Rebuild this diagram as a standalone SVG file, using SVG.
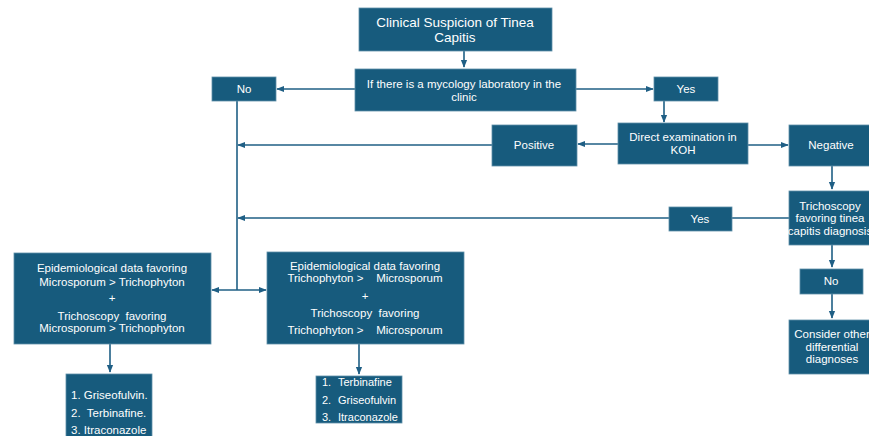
<svg xmlns="http://www.w3.org/2000/svg" width="869" height="436" viewBox="0 0 869 436">
<style>
.box{fill:#175b7d;stroke:#5f8fa8;stroke-width:0.8}
.t{font-family:"Liberation Sans",Arial,sans-serif;font-size:11.5px;fill:#ffffff;text-anchor:middle}
.tl{font-family:"Liberation Sans",Arial,sans-serif;font-size:11.5px;fill:#ffffff}
.sm{font-size:11px}
.big{font-size:13.5px}
.c{stroke:#1f5f85;stroke-width:1.6;fill:none}
</style>
<defs>
<marker id="ah" viewBox="0 0 10 10" refX="9" refY="5" markerWidth="5" markerHeight="5" orient="auto-start-reverse">
<path d="M0,1 L10,5 L0,9 z" fill="#1f5f85"/>
</marker>
</defs>
<rect width="869" height="436" fill="#ffffff"/>
<g id="connectors">
<path class="c" d="M464,51 V67" marker-end="url(#ah)"/>
<path class="c" d="M355,89 H277" marker-end="url(#ah)"/>
<path class="c" d="M576,89 H653" marker-end="url(#ah)"/>
<path class="c" d="M664,101 V122" marker-end="url(#ah)"/>
<path class="c" d="M618,144 H578" marker-end="url(#ah)"/>
<path class="c" d="M748,145 H788" marker-end="url(#ah)"/>
<path class="c" d="M492,145 H238" marker-end="url(#ah)"/>
<path class="c" d="M832,166 V189" marker-end="url(#ah)"/>
<path class="c" d="M789,218 H732"/>
<path class="c" d="M669,218 H238" marker-end="url(#ah)"/>
<path class="c" d="M832,245 V267" marker-end="url(#ah)"/>
<path class="c" d="M832,294 V318" marker-end="url(#ah)"/>
<path class="c" d="M237,101 V290"/>
<path class="c" d="M212,290 H266" marker-start="url(#ah)" marker-end="url(#ah)"/>
<path class="c" d="M110,344 V372" marker-end="url(#ah)"/>
<path class="c" d="M359,344 V374" marker-end="url(#ah)"/>
</g>
<g id="n-suspicion"><rect class="box" x="359" y="8" width="193" height="43"/><text class="t big" x="455" y="27">Clinical Suspicion of Tinea</text><text class="t big" x="455" y="42">Capitis</text></g>
<g id="n-lab"><rect class="box" x="355" y="69" width="221" height="42"/><text class="t" x="464" y="88">If there is a mycology laboratory in the</text><text class="t" x="464" y="101">clinic</text></g>
<g id="n-no1"><rect class="box" x="212" y="77" width="64" height="24"/><text class="t" x="244" y="93">No</text></g>
<g id="n-yes1"><rect class="box" x="654" y="77" width="64" height="24"/><text class="t" x="686" y="93">Yes</text></g>
<g id="n-koh"><rect class="box" x="618" y="123" width="130" height="41"/><text class="t" x="683" y="141">Direct examination in</text><text class="t" x="683" y="154">KOH</text></g>
<g id="n-positive"><rect class="box" x="492" y="125" width="85" height="41"/><text class="t" x="534" y="149">Positive</text></g>
<g id="n-negative"><rect class="box" x="789" y="125" width="83" height="41"/><text class="t" x="831" y="149">Negative</text></g>
<g id="n-tricho"><rect class="box" x="789" y="191" width="83" height="54"/><text class="t" x="830" y="210">Trichoscopy</text><text class="t" x="830" y="222">favoring tinea</text><text class="t" x="830" y="235">capitis diagnosis</text></g>
<g id="n-yes2"><rect class="box" x="669" y="207" width="63" height="24"/><text class="t" x="700" y="223">Yes</text></g>
<g id="n-no2"><rect class="box" x="800" y="269" width="63" height="25"/><text class="t" x="831" y="285">No</text></g>
<g id="n-consider"><rect class="box" x="789" y="320" width="83" height="54"/><text class="t" x="832" y="338">Consider other</text><text class="t" x="832" y="351">differential</text><text class="t" x="832" y="363">diagnoses</text></g>
<g id="n-micro"><rect class="box" x="14" y="253" width="197" height="91"/>
<text class="t" x="112" y="272">Epidemiological data favoring</text>
<text class="t" x="112" y="286">Microsporum &gt; Trichophyton</text>
<text class="t" x="112" y="302">+</text>
<text class="t" x="112" y="320" xml:space="preserve">Trichoscopy  favoring</text>
<text class="t" x="112" y="332">Microsporum &gt; Trichophyton</text></g>
<g id="n-tricho2"><rect class="box" x="267" y="252" width="197" height="92"/>
<text class="t" x="365" y="270">Epidemiological data favoring</text>
<text class="t" x="365" y="282" xml:space="preserve">Trichophyton &gt;    Microsporum</text>
<text class="t" x="365" y="300">+</text>
<text class="t" x="365" y="317" xml:space="preserve">Trichoscopy  favoring</text>
<text class="t" x="365" y="334" xml:space="preserve">Trichophyton &gt;    Microsporum</text></g>
<g id="n-list1"><rect class="box" x="66" y="374" width="86" height="64"/>
<text class="tl" x="71" y="399">1. Griseofulvin.</text>
<text class="tl" x="71" y="417" xml:space="preserve">2.  Terbinafine.</text>
<text class="tl" x="71" y="434">3. Itraconazole</text></g>
<g id="n-list2"><rect class="box" x="316" y="376" width="86" height="47"/>
<text class="tl sm" x="322" y="386">1.</text><text class="tl sm" x="338" y="386">Terbinafine</text>
<text class="tl sm" x="322" y="404">2.</text><text class="tl sm" x="338" y="404">Griseofulvin</text>
<text class="tl sm" x="322" y="421">3.</text><text class="tl sm" x="338" y="421">Itraconazole</text></g>
</svg>
